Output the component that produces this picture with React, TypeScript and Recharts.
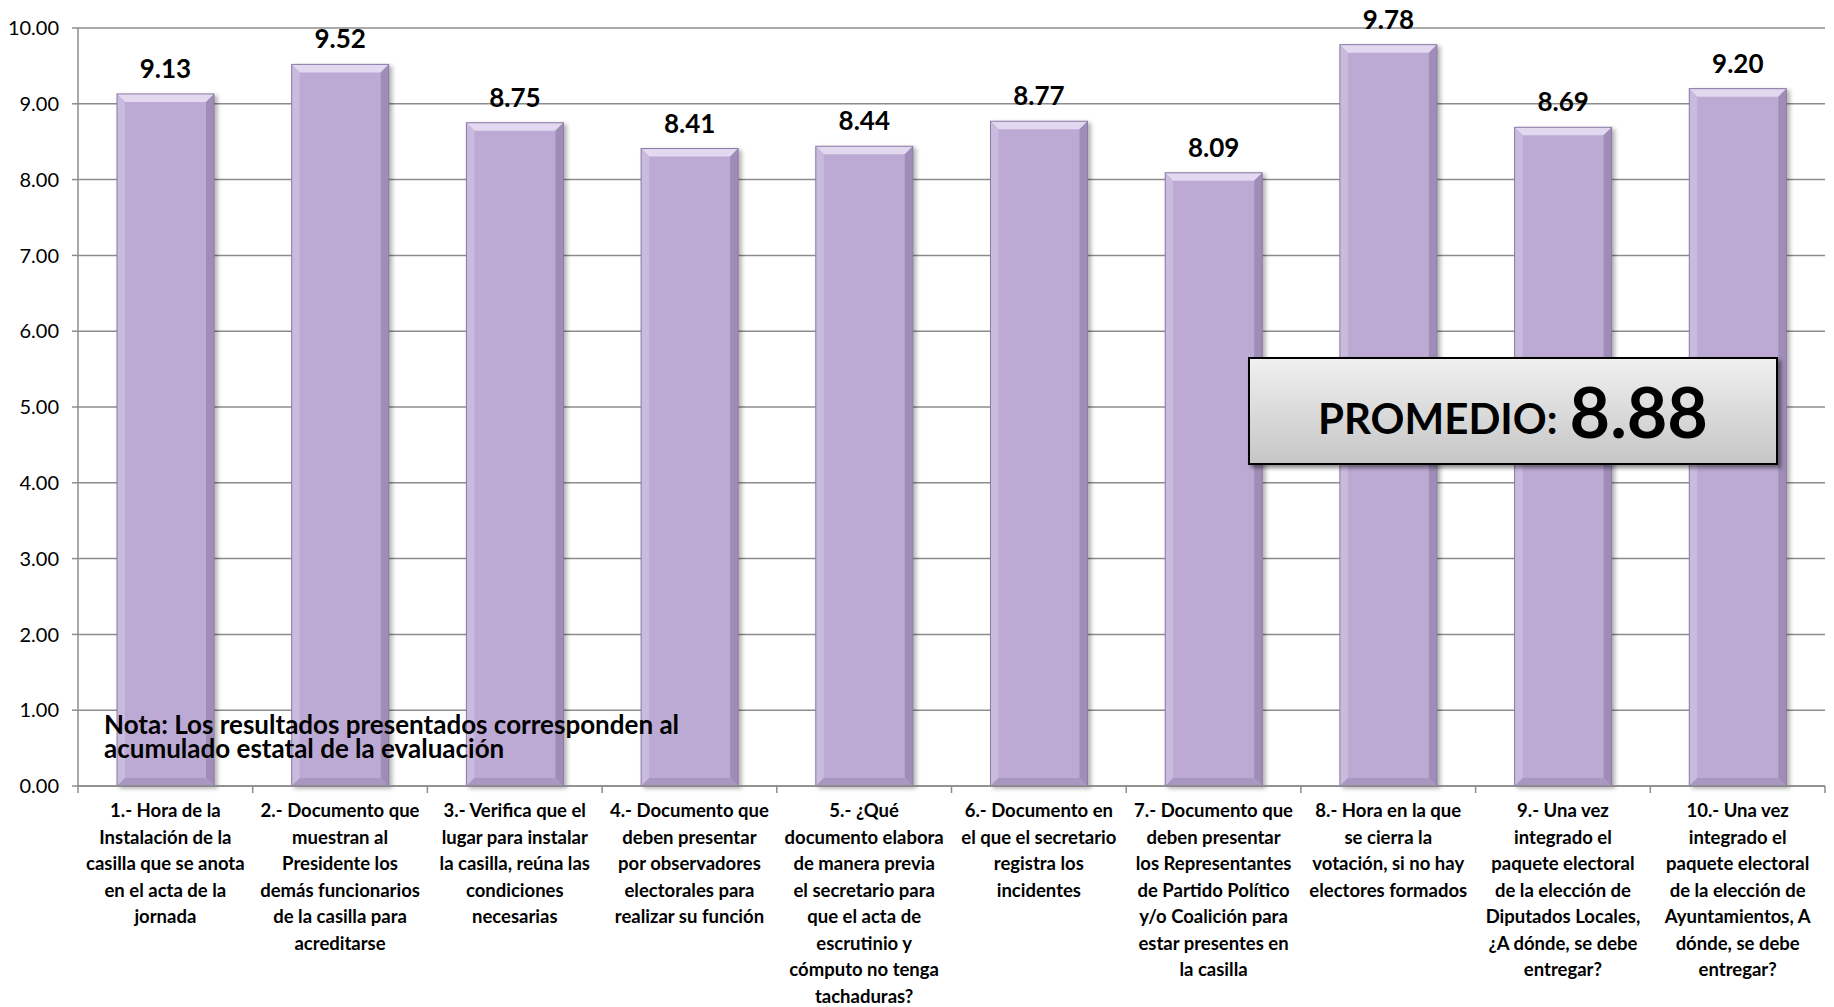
import React from 'react';
import { BarChart, Bar, XAxis, YAxis, CartesianGrid, LabelList } from 'recharts';

// Categories (line breaks as they appear under each bar)
const categories = [
  '1.- Hora de la\nInstalación de la\ncasilla que se anota\nen el acta de la\njornada',
  '2.- Documento que\nmuestran al\nPresidente los\ndemás funcionarios\nde la casilla para\nacreditarse',
  '3.- Verifica que el\nlugar para instalar\nla casilla, reúna las\ncondiciones\nnecesarias',
  '4.- Documento que\ndeben presentar\npor observadores\nelectorales para\nrealizar su función',
  '5.- ¿Qué\ndocumento elabora\nde manera previa\nel secretario para\nque el acta de\nescrutinio y\ncómputo no tenga\ntachaduras?',
  '6.- Documento en\nel que el secretario\nregistra los\nincidentes',
  '7.- Documento que\ndeben presentar\nlos Representantes\nde Partido Político\ny/o Coalición para\nestar presentes en\nla casilla',
  '8.- Hora en la que\nse cierra la\nvotación, si no hay\nelectores formados',
  '9.- Una vez\nintegrado el\npaquete electoral\nde la elección de\nDiputados Locales,\n¿A dónde, se debe\nentregar?',
  '10.- Una vez\nintegrado el\npaquete electoral\nde la elección de\nAyuntamientos, A\ndónde, se debe\nentregar?',
];
const scores = [9.13, 9.52, 8.75, 8.41, 8.44, 8.77, 8.09, 9.78, 8.69, 9.2];
const yTicks = [0, 1, 2, 3, 4, 5, 6, 7, 8, 9, 10];
const promedio = 8.88;
const nota = ['Nota: Los resultados presentados corresponden al', 'acumulado estatal de la evaluación'];

const data = categories.map((name, i) => ({ name, value: scores[i] }));

const W = 1834;
const H = 1007;
const X_AXIS_H = 30;
const MARGIN = { top: 28, right: 9, left: 0, bottom: 221 - X_AXIS_H };
const Y_AXIS_W = 78;
const BAND = (W - MARGIN.left - MARGIN.right - Y_AXIS_W) / categories.length;
const FONT = 'Lato, "Open Sans", sans-serif';

const BevelBar = (props: any) => {
  const { x, y, width: w, height: h } = props;
  if (!h || h <= 0) return null;
  const b = 8;
  return (
    <g style={{ filter: 'drop-shadow(3px 2px 2px rgba(0,0,0,0.3))' }}>
      <rect x={x} y={y} width={w} height={h} fill="#bcaad4" />
      {/* top bevel */}
      <polygon points={`${x},${y} ${x + w},${y} ${x + w - b},${y + b} ${x + b},${y + b}`} fill="#e2d8f0" />
      {/* left bevel */}
      <polygon points={`${x},${y} ${x + b},${y + b} ${x + b},${y + h - b} ${x},${y + h}`} fill="#c9bbdd" />
      {/* right bevel */}
      <polygon points={`${x + w},${y} ${x + w},${y + h} ${x + w - b},${y + h - b} ${x + w - b},${y + b}`} fill="#9f8db8" />
      {/* bottom bevel */}
      <polygon points={`${x},${y + h} ${x + w},${y + h} ${x + w - b},${y + h - b} ${x + b},${y + h - b}`} fill="#a897c0" />
      <rect x={x} y={y} width={w} height={h} fill="none" stroke="#8c7ba6" strokeWidth={1} />
    </g>
  );
};

const CategoryTick = (props: any) => {
  const { x, y, payload, index } = props;
  const lines = String(payload.value).split('\n');
  return (
    <g>
      <line x1={x - BAND / 2} y1={y - 8} x2={x - BAND / 2} y2={y - 1} stroke="#8c8c8c" strokeWidth={1.5} />
      {index === categories.length - 1 && (
        <line x1={x + BAND / 2} y1={y - 8} x2={x + BAND / 2} y2={y - 1} stroke="#8c8c8c" strokeWidth={1.5} />
      )}
      <text x={x} y={y + 23} textAnchor="middle" fontFamily={FONT} fontWeight="bold" fontSize={18.5} fill="#000">
        {lines.map((ln, i) => (
          <tspan key={i} x={x} dy={i === 0 ? 0 : 26.5}>
            {ln}
          </tspan>
        ))}
      </text>
    </g>
  );
};

const App: React.FC = () => {
  return (
    <div style={{ position: 'absolute', left: 0, top: 0, width: W, height: H, background: '#fff' }}>
      <BarChart width={W} height={H} data={data} margin={MARGIN} barSize={97}>
        <CartesianGrid vertical={false} stroke="#8c8c8c" strokeWidth={1.5} />
        <XAxis
          dataKey="name"
          interval={0}
          height={X_AXIS_H}
          tickLine={false}
          axisLine={{ stroke: '#8c8c8c', strokeWidth: 1.5 }}
          tick={<CategoryTick />}
        />
        <YAxis
          type="number"
          domain={[0, 10]}
          ticks={yTicks}
          width={Y_AXIS_W}
          tickSize={6}
          tickMargin={13}
          tickFormatter={(v: number) => v.toFixed(2)}
          axisLine={{ stroke: '#8c8c8c', strokeWidth: 1.5 }}
          tickLine={{ stroke: '#8c8c8c', strokeWidth: 1.5 }}
          tick={{ fill: '#000', fontSize: 20, fontFamily: FONT }}
        />
        <Bar dataKey="value" shape={<BevelBar />} isAnimationActive={false}>
          <LabelList
            dataKey="value"
            position="top"
            offset={16}
            formatter={(v: any) => Number(v).toFixed(2)}
            style={{ fill: '#000', fontSize: 26, fontWeight: 'bold', fontFamily: FONT }}
          />
        </Bar>
      </BarChart>

      {/* Nota */}
      <div
        style={{
          position: 'absolute',
          left: 104,
          top: 712,
          fontFamily: FONT,
          fontWeight: 'bold',
          fontSize: 26,
          lineHeight: '24px',
          color: '#000',
          whiteSpace: 'nowrap',
        }}
      >
        {nota.map((t, i) => (
          <div key={i}>{t}</div>
        ))}
      </div>

      {/* Promedio box */}
      <div
        style={{
          position: 'absolute',
          left: 1248,
          top: 357,
          width: 526,
          height: 104,
          border: '2px solid #000',
          background: 'linear-gradient(to bottom, #f0f0f0, #c6c6c6)',
          boxShadow: '3px 3px 4px rgba(0,0,0,0.45)',
          display: 'flex',
          alignItems: 'center',
          justifyContent: 'center',
          fontFamily: FONT,
          fontWeight: 'bold',
          color: '#000',
        }}
      >
        <span style={{ fontSize: 42, marginRight: 12, position: 'relative', top: 7 }}>PROMEDIO:</span>
        <span style={{ fontSize: 70 }}>{promedio.toFixed(2)}</span>
      </div>
    </div>
  );
};

export default App;
